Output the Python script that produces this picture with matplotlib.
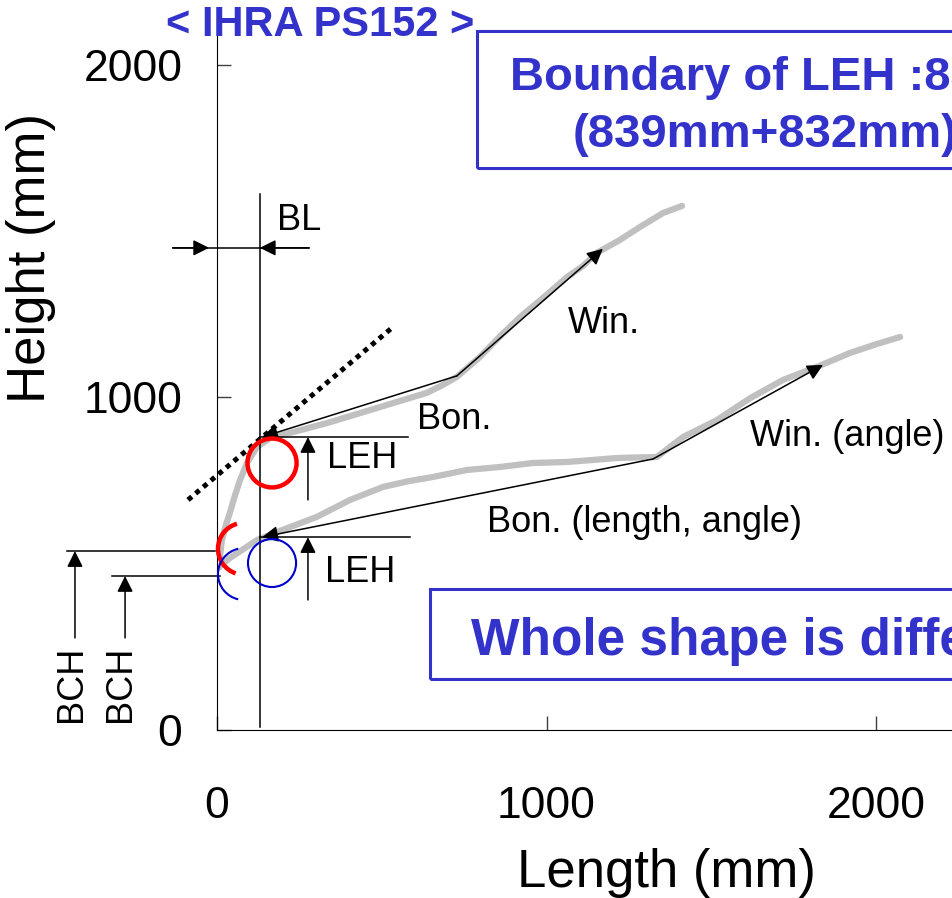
import matplotlib.pyplot as plt
from matplotlib.patches import Ellipse, Arc, Rectangle

plt.rcParams['font.family'] = ['Liberation Sans', 'DejaVu Sans']

BLUE = '#3333CC'

# bonnet/windscreen profile, vehicle 1 (steep bonnet)
upper_len = [9, 15, 27, 39, 55, 70, 91, 121, 161, 231, 334, 434, 534, 637, 686, 728,
             798, 860, 920, 990, 1062, 1110, 1153, 1223, 1284, 1354, 1411]
upper_hgt = [520, 571, 617, 653, 707, 752, 803, 851, 878, 896, 923, 953, 983, 1014, 1038, 1062,
             1122, 1185, 1242, 1300, 1362, 1395, 1435, 1474, 1513, 1555, 1576]

# vehicle 2 (long flat bonnet)
lower_len = [3, 39, 121, 200, 303, 404, 504, 580, 656, 759, 859, 959, 1062, 1140, 1214, 1335,
             1414, 1517, 1618, 1718, 1821, 1921, 2000, 2073]
lower_hgt = [487, 517, 571, 602, 641, 692, 731, 748, 761, 782, 791, 803, 806, 812, 818, 821,
             881, 932, 998, 1053, 1092, 1134, 1160, 1182]

# key points
bl = 130                      # bumper lead
leh_upper = (137, 881)        # leading edge height, vehicle 1
leh_lower = (137, 580)        # leading edge height, vehicle 2
bon_win_upper = (728, 1065)   # bonnet / windscreen break, vehicle 1
win_end_upper = (1171, 1447)
bon_win_lower = (1323, 815)
win_end_lower = (1839, 1098)
bch_upper = 538
bch_lower = 463
tangent_x = [-88, 534]
tangent_y = [692, 1212]

fig = plt.figure(figsize=(9.52, 8.98), dpi=100)
W, H = 952, 898
ax = fig.add_axes([217 / W, 1 - 730 / H, (1000 - 217) / W, (730 - 36) / H])
ax.set_xlim(0, 2376)
ax.set_ylim(0, 2087)
ax.spines['top'].set_visible(False)
ax.spines['right'].set_visible(False)
ax.set_xticks([0, 1000, 2000])
ax.set_yticks([0, 1000, 2000])
ax.tick_params(direction='in', length=10, width=1, color='#404040', labelsize=32)
ax.tick_params(axis='x', pad=40)
ax.tick_params(axis='y', pad=25)

ax.set_xlabel('Length (mm)', fontsize=38, va='baseline')
ax.xaxis.set_label_coords((666 - 217) / 783, (730 - 887) / 694)
ax.set_ylabel('Height (mm)', fontsize=38, va='center', rotation_mode='anchor')
ax.yaxis.set_label_coords((31 - 217) / 783, (730 - 258) / 694)

ax.plot(upper_len, upper_hgt, color='#C0C0C0', lw=4.5, solid_capstyle='round', zorder=2)
ax.plot(lower_len, lower_hgt, color='#C0C0C0', lw=4.5, solid_capstyle='round', zorder=2)

ax.plot(tangent_x, tangent_y, color='black', lw=3.6, linestyle=(0, (1, 1)),
        dash_capstyle='butt', clip_on=False, zorder=3)


def arrow(tail, head):
    ax.annotate('', xy=head, xytext=tail, annotation_clip=False,
                arrowprops=dict(arrowstyle='-|>', color='black', lw=1.1,
                                mutation_scale=24, shrinkA=0, shrinkB=0), zorder=4)


ref = dict(color='black', lw=1.1, clip_on=False, zorder=3)

# BL
ax.plot([bl, bl], [9, 1612], **ref)
ax.plot([-134, 279], [1450, 1450], **ref)
arrow((-134, 1450), (-24, 1450))
arrow((279, 1450), (bl, 1450))
ax.text(182, 1504, 'BL', fontsize=26, va='baseline')

# bonnet / windscreen arrows
arrow(bon_win_upper, leh_upper)
arrow(bon_win_upper, win_end_upper)
arrow(bon_win_lower, leh_lower)
arrow(bon_win_lower, win_end_lower)
ax.text(607, 905, 'Bon.', fontsize=26, va='baseline')
ax.text(1066, 1194, 'Win.', fontsize=26, va='baseline')
ax.text(819, 595, 'Bon. (length, angle)', fontsize=26, va='baseline')
ax.text(1618, 854, 'Win. (angle)', fontsize=26, va='baseline')

# LEH
ax.plot([bl, 580], [leh_upper[1], leh_upper[1]], **ref)
arrow((276, 692), (276, leh_upper[1]))
ax.text(334, 788, 'LEH', fontsize=26, va='baseline')
ax.plot([bl, 586], [leh_lower[1], leh_lower[1]], **ref)
arrow((276, 391), (276, leh_lower[1]))
ax.text(328, 445, 'LEH', fontsize=26, va='baseline')

# BCH
ax.plot([-455, -6], [bch_upper, bch_upper], **ref)
arrow((-431, 277), (-431, bch_upper))
ax.plot([-319, 9], [bch_lower, bch_lower], **ref)
arrow((-279, 277), (-279, bch_lower))
ax.text(-443, 138, 'BCH', fontsize=26, rotation=90, ha='center', va='center')
ax.text(-294, 138, 'BCH', fontsize=26, rotation=90, ha='center', va='center')

# circles and arcs
ax.add_patch(Ellipse((167, 803), 149, 147, fill=False, ec='#FF0000', lw=3.2, zorder=5))
ax.add_patch(Ellipse((167, 502), 146, 144, fill=False, ec='#0000CC', lw=1.5, zorder=5))
ax.add_patch(Arc((82, 545), 158, 156, theta1=106, theta2=251, color='#FF0000', lw=3.2,
                 zorder=5, clip_on=False))
ax.add_patch(Arc((82, 469), 158, 156, theta1=103, theta2=257, color='#0000CC', lw=1.5,
                 zorder=5, clip_on=False))

# title and boxed notes
fig.text(320 / W, 1 - 36 / H, '< IHRA PS152 >', color=BLUE, fontsize=30,
         fontweight='bold', ha='center', va='baseline')
fig.patches.append(Rectangle((477 / W, 1 - 168 / H), 700 / W, 137 / H, fill=False,
                             ec=BLUE, lw=2.2, transform=fig.transFigure, figure=fig))
fig.text(510 / W, 1 - 90 / H, 'Boundary of LEH :835mm', color=BLUE, fontsize=34,
         fontweight='bold', va='baseline')
fig.text(573 / W, 1 - 147 / H, '(839mm+832mm)/2', color=BLUE, fontsize=34,
         fontweight='bold', va='baseline')
fig.patches.append(Rectangle((430 / W, 1 - 679 / H), 700 / W, 90 / H, fill=False,
                             ec=BLUE, lw=2.2, transform=fig.transFigure, figure=fig))
fig.text(471 / W, 1 - 655 / H, 'Whole shape is different', color=BLUE, fontsize=37,
         fontweight='bold', va='baseline')

fig.savefig('out.png', dpi=100)
